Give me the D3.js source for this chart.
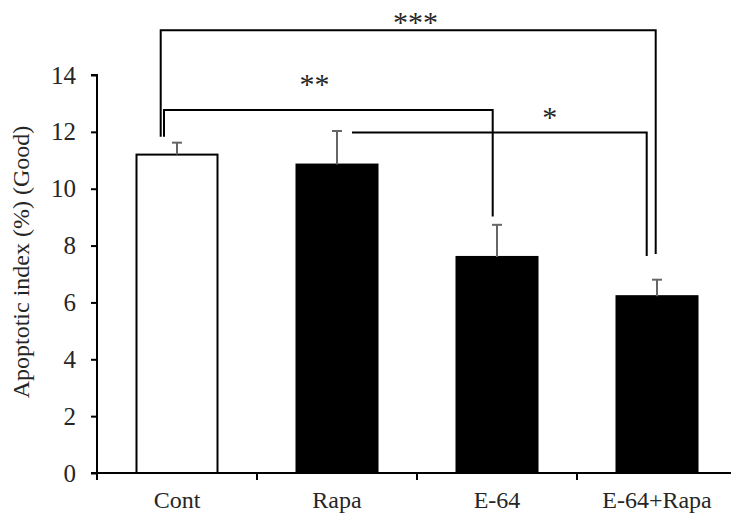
<!DOCTYPE html>
<html>
<head>
<meta charset="utf-8">
<script src="https://cdn.jsdelivr.net/npm/d3@7"></script>
<style>
  body { margin: 0; background: #fff; }
  svg { display: block; }
  text { font-family: "Liberation Serif", "Times New Roman", serif; fill: #262626; }
</style>
</head>
<body>
<svg id="chart" width="731" height="515"></svg>
<script>
// dane
const categories = ["Cont", "Rapa", "E-64", "E-64+Rapa"];
const means = [11.2, 10.85, 7.6, 6.22];
const errors = [0.42, 1.18, 1.13, 0.58];
const filled = [false, true, true, true];
const yTicks = [0, 2, 4, 6, 8, 10, 12, 14];

// nawiasy istotności: od, do, wysokość, końce nóżek, etykieta, położenie etykiety
const sigFrom = [0, 0, 1];
const sigTo = [3, 2, 3];
const sigTop = [15.57, 12.77, 11.98];
const sigLeftEnd = [11.83, 11.83, null];
const sigRightEnd = [7.7, 9.02, 7.63];
const sigLabels = ["***", "**", "*"];
const sigLabelAt = [1.49, 0.86, 2.33];
const sigLabelY = [15.99, 13.84, 12.67];

const svg = d3.select("#chart");
const plotLeft = 97, plotBottom = 473, plotTop = 75;

const x = d3.scaleBand().domain(categories).range([plotLeft, plotLeft + 160 * categories.length]).paddingInner(0).paddingOuter(0);
const y = d3.scaleLinear().domain([0, 14]).range([plotBottom, plotTop]);
const bw = x.bandwidth();
const barW = 81;
const cx = i => x(categories[i]) + bw / 2;
const cxf = f => x(categories[0]) + bw / 2 + f * bw;

// słupki
svg.append("g").selectAll("rect")
    .data(categories)
    .enter()
    .append("rect")
    .attr("x", (d, i) => cx(i) - barW / 2)
    .attr("y", (d, i) => y(means[i]))
    .attr("width", barW)
    .attr("height", (d, i) => y(0) - y(means[i]))
    .attr("fill", (d, i) => filled[i] ? "#000" : "#fff")
    .attr("stroke", "#000")
    .attr("stroke-width", 2);

// słupki błędów
const eb = svg.append("g").attr("stroke", "#666").attr("stroke-width", 2);
categories.forEach((c, i) => {
    eb.append("line")
        .attr("x1", cx(i)).attr("x2", cx(i))
        .attr("y1", y(means[i])).attr("y2", y(means[i] + errors[i]));
    eb.append("line")
        .attr("x1", cx(i) - 5).attr("x2", cx(i) + 5)
        .attr("y1", y(means[i] + errors[i])).attr("y2", y(means[i] + errors[i]));
});

// osie
const yAxis = svg.append("g")
    .attr("transform", `translate(${plotLeft},0)`)
    .call(d3.axisLeft(y).tickValues(yTicks).tickSize(6).tickPadding(15));
yAxis.select(".domain").attr("stroke", "#000").attr("stroke-width", 2).attr("d", `M-6,${plotTop}H0V${plotBottom}H-6`);
yAxis.selectAll(".tick line").attr("stroke", "#000").attr("stroke-width", 2);
yAxis.selectAll(".tick text").style("font-size", "25px").style("font-family", "Liberation Serif").attr("fill", "#262626");

const xAxis = svg.append("g")
    .attr("transform", `translate(0,${plotBottom})`);
xAxis.append("line")
    .attr("x1", plotLeft - 6).attr("x2", 731)
    .attr("y1", 0).attr("y2", 0)
    .attr("stroke", "#000").attr("stroke-width", 2);
xAxis.selectAll("line.tk")
    .data(categories)
    .enter()
    .append("line")
    .attr("class", "tk")
    .attr("x1", d => x(d)).attr("x2", d => x(d))
    .attr("y1", 0).attr("y2", 7)
    .attr("stroke", "#000").attr("stroke-width", 2);
xAxis.selectAll("text")
    .data(categories)
    .enter()
    .append("text")
    .attr("x", d => x(d) + bw / 2)
    .attr("y", 35)
    .attr("text-anchor", "middle")
    .style("font-size", "24px")
    .text(d => d);

// tytuł osi Y
svg.append("text")
    .attr("transform", "translate(29,262) rotate(-90)")
    .attr("text-anchor", "middle")
    .style("font-size", "24px")
    .text("Apoptotic index (%) (Good)");

// nawiasy
const offL = [-16.3, -13, 15];
const offR = [-1.3, -4.3, -10.3];
const br = svg.append("g").attr("fill", "none").attr("stroke", "#000").attr("stroke-width", 2);
sigLabels.forEach((lab, i) => {
    const x1 = cx(sigFrom[i]) + offL[i];
    const x2 = cx(sigTo[i]) + offR[i];
    const yt = y(sigTop[i]);
    let d = sigLeftEnd[i] !== null ? `M${x1},${y(sigLeftEnd[i])}V${yt}` : `M${x1},${yt}`;
    d += `H${x2}V${y(sigRightEnd[i])}`;
    br.append("path").attr("d", d);
    svg.append("text")
        .attr("x", cxf(sigLabelAt[i]))
        .attr("y", y(sigLabelY[i]) + 14)
        .attr("text-anchor", "middle")
        .style("font-size", "30px")
        .attr("fill", "#404040")
        .text(lab);
});
</script>
</body>
</html>
